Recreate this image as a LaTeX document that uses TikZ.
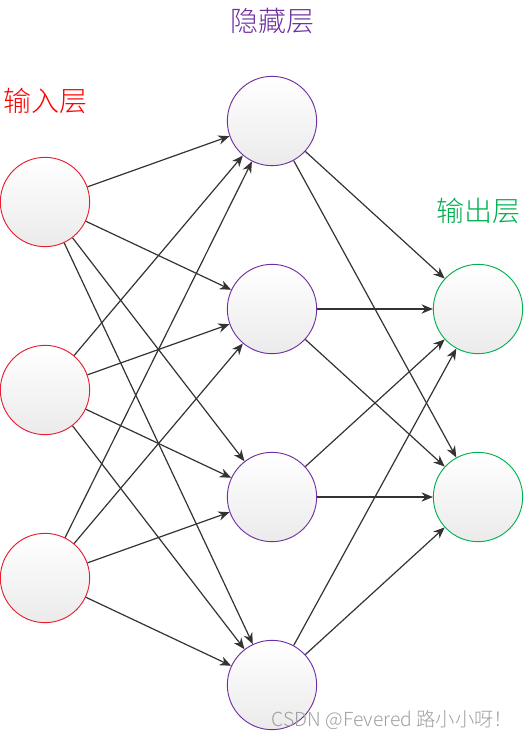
\documentclass[tikz,border=0pt]{standalone}
\usepackage{fontspec}
\setmainfont{Noto Sans CJK SC}
\newfontfamily\labfont{Noto Sans CJK SC Light}
\usetikzlibrary{arrows.meta}
\definecolor{inred}{RGB}{230,30,50}
\definecolor{hidpurple}{RGB}{112,48,160}
\definecolor{outgreen}{RGB}{0,176,80}

\begin{document}
\begin{tikzpicture}[x=0.75pt,y=-0.75pt,
    neuron/.style={circle, minimum size=67pt, inner sep=0pt, top color=white, bottom color=gray!16, line width=0.7pt},
    conn/.style={-{Stealth[length=8.5pt,width=7pt]}, line width=0.9pt, black!80},
    layerlab/.style={font=\labfont\fontsize{21}{24}\selectfont}]
    \useasboundingbox (0,0) rectangle (526,739);
    % neurons
    \foreach \i/\y in {1/202,2/390,3/578}
        \node[neuron, draw=inred] (in\i) at (45,\y) {};
    \foreach \j/\y in {1/121,2/309,3/497,4/685}
        \node[neuron, draw=hidpurple] (hid\j) at (272,\y) {};
    \foreach \k/\y in {1/309,2/497}
        \node[neuron, draw=outgreen] (out\k) at (478,\y) {};
    % connections
    \foreach \i in {1,2,3}
        \foreach \j in {1,...,4}
            \draw[conn] (in\i) -- (hid\j);
    \foreach \j in {1,...,4}
        \foreach \k in {1,2}
            \draw[conn] (hid\j) -- (out\k);
    % labels
    \node[layerlab, text=red] (inlab) at (45,101) {输入层};
    \node[layerlab, text=hidpurple] (hidlab) at (272,21) {隐藏层};
    \node[layerlab, text=outgreen] (outlab) at (478,211) {输出层};
    \node[text=gray!75, font=\labfont\fontsize{14.5}{16}\selectfont, anchor=east] (mark) at (518,720) {CSDN @Fevered 路小小呀！};
\end{tikzpicture}
\end{document}
